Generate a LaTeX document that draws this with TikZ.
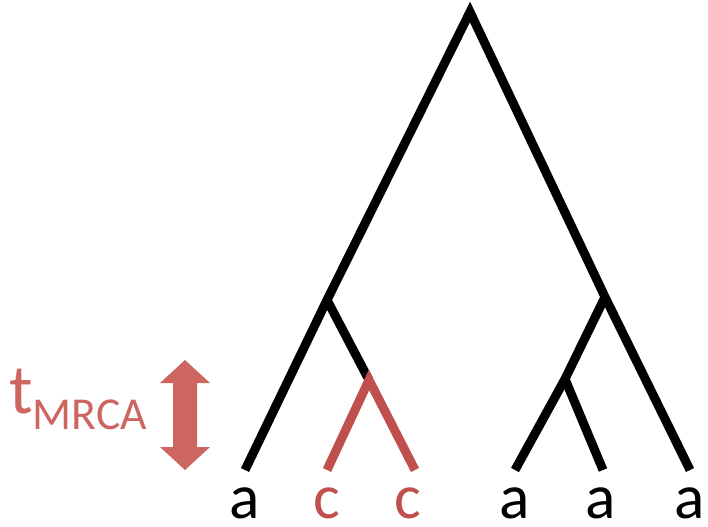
\documentclass[tikz,border=0pt]{standalone}
\usepackage{fontspec}
\setmainfont{Carlito}
\definecolor{mrca}{HTML}{C0504D}
\definecolor{mrcasoft}{HTML}{CD6660}

\begin{document}
\begin{tikzpicture}[
    x=0.025cm, y=-0.025cm,
    branch/.style={line width=6.4pt, black},
    redbranch/.style={line width=6.4pt, mrca},
    leaf/.style={font=\fontsize{45}{50}\selectfont, inner sep=0pt, text depth=0pt, anchor=base}
]
\useasboundingbox (0,0) rectangle (708,526);

% tree vertices
\coordinate (root) at (470,12);
\coordinate (ln) at (327,300);
\coordinate (rn) at (605,297);
\coordinate (cn) at (369,380);
\coordinate (sn) at (565,379);
\coordinate (l1) at (245,470);
\coordinate (l2) at (327,470);
\coordinate (l3) at (415,470);
\coordinate (l4) at (515,470);
\coordinate (l5) at (603,470);
\coordinate (l6) at (690,470);

\draw[branch] (l1) -- (ln) -- (root) -- (rn) -- (l6);
\draw[branch] (ln) -- (cn);
\draw[branch] (rn) -- (sn) -- (l4);
\draw[branch] (sn) -- (l5);
\draw[redbranch] (l2) -- (cn) -- (l3);

% leaf labels
\node[leaf] (a1) at (245,518) {a};
\node[leaf, text=mrca] (c1) at (327,518) {c};
\node[leaf, text=mrca] (c2) at (408,518) {c};
\node[leaf] (a2) at (515,518) {a};
\node[leaf] (a3) at (601,518) {a};
\node[leaf] (a4) at (690,518) {a};

% time to MRCA
\fill[mrcasoft] (185,360) -- (210,383) -- (197,383) -- (197,447) -- (210,447)
  -- (185,470) -- (160,447) -- (173,447) -- (173,383) -- (160,383) -- cycle;
\node[text=mrcasoft, inner sep=0pt, anchor=base west, font=\fontsize{50}{55}\selectfont] (tlabel) at (9,413) {t\raisebox{-12pt}{\fontsize{32.5}{34}\selectfont MRCA}};

\end{tikzpicture}
\end{document}
